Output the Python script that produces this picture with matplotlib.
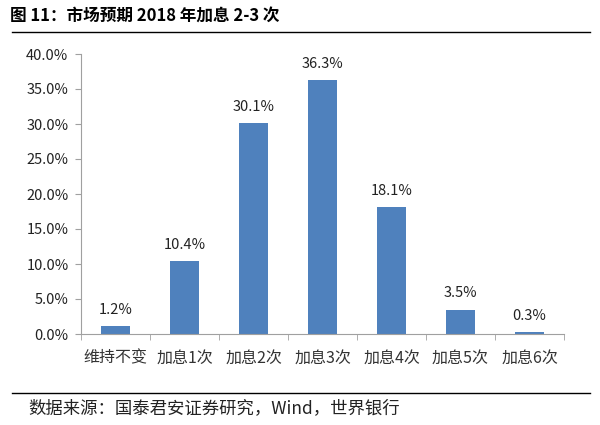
import matplotlib.pyplot as plt
import numpy as np

plt.rcParams['font.family'] = ['Noto Sans CJK SC', 'DejaVu Sans']

categories = ['维持不变', '加息1次', '加息2次', '加息3次', '加息4次', '加息5次', '加息6次']
values = [1.2, 10.4, 30.1, 36.3, 18.1, 3.5, 0.3]
labels = ['1.2%', '10.4%', '30.1%', '36.3%', '18.1%', '3.5%', '0.3%']
yticks = np.arange(0, 45, 5)

fig = plt.figure(figsize=(6, 4.25), dpi=100)
ax = fig.add_axes([81/600, 1 - 334/425, (564 - 81)/600, (334 - 54)/425])

x = np.arange(len(categories))
ax.bar(x, values, width=0.42, color='#4f81bd')
for xi, v, lab in zip(x, values, labels):
    ax.text(xi, v + 1.3, lab, ha='center', va='bottom', fontsize=10.5, color='#222222')

ax.set_xlim(-0.5, len(categories) - 0.5)
ax.set_ylim(0, 40)
ax.set_yticks(yticks)
ax.set_yticklabels(['%.1f%%' % t for t in yticks], fontsize=10.5, color='#222222')
ax.set_xticks(x)
ax.set_xticklabels(categories, fontsize=11.5, color='#333333')
ax.tick_params(axis='x', length=0, pad=11)
ax.set_xticks(np.arange(-0.5, len(categories), 1), minor=True)
ax.tick_params(axis='x', which='minor', length=4, color='#a0a0a0')
ax.tick_params(axis='y', length=4, color='#a0a0a0', pad=5)
for s in ['top', 'right']:
    ax.spines[s].set_visible(False)
for s in ['left', 'bottom']:
    ax.spines[s].set_color('#a0a0a0')

# 标题和来源
fig.text(10/600, 1 - 16/425, '图 11：市场预期 2018 年加息 2-3 次', fontsize=12, fontweight='bold',
         va='center', ha='left')
fig.add_artist(plt.Line2D([12/600, 590/600], [1 - 32/425, 1 - 32/425], color='black', lw=1))
fig.add_artist(plt.Line2D([12/600, 590/600], [1 - 393/425, 1 - 393/425], color='black', lw=1))
fig.text(28/600, 1 - 408/425, '数据来源：国泰君安证券研究，Wind，世界银行', fontsize=12.5,
         va='center', ha='left', color='#222222')

plt.savefig('out.png')
